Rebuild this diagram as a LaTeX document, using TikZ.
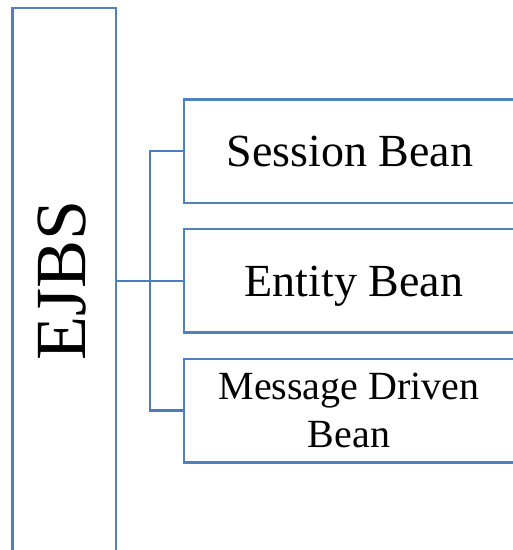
\documentclass[tikz,border=0pt]{standalone}
\usepackage{fontspec}
\setmainfont{Liberation Serif}
\definecolor{boxblue}{RGB}{79,129,189}
\definecolor{linkblue}{RGB}{74,126,187}
\begin{document}
\begin{tikzpicture}[x=1pt,y=-1pt,
  frame/.style={draw=boxblue,line width=2.5pt,rectangle,inner sep=0pt,fill=white},
  link/.style={draw=linkblue,line width=2.5pt},
  lbl/.style={inner sep=0pt,anchor=base,text=black}]
\useasboundingbox (0,0) rectangle (513,550);
\clip (0,0) rectangle (513,550);
\node[frame,minimum width=103.5pt,minimum height=544pt] (ejbs) at (64.25,280) {};
\node[frame,minimum width=332pt,minimum height=103.5pt] (sess) at (350,151) {};
\node[frame,minimum width=332pt,minimum height=103.5pt] (ent) at (350,280.5) {};
\node[frame,minimum width=332pt,minimum height=103.5pt] (msg) at (350,410.5) {};
\node[lbl,rotate=90,font=\fontsize{72}{72}\selectfont] (t0) at (85,280) {EJBS};
\node[lbl,font=\fontsize{46}{46}\selectfont] (t1) at (350,166) {Session Bean};
\node[lbl,font=\fontsize{46}{46}\selectfont] (t2) at (354,296) {Entity Bean};
\node[lbl,font=\fontsize{40}{40}\selectfont] (t3) at (349,399) {Message Driven};
\node[lbl,font=\fontsize{40}{40}\selectfont] (t4) at (349,447) {Bean};
\coordinate (j) at (150,281);
\draw[link] (ejbs.east |- j) -- (ent.west |- j);
\draw[link] (sess.west) -| (j) |- (msg.west);
\end{tikzpicture}
\end{document}
